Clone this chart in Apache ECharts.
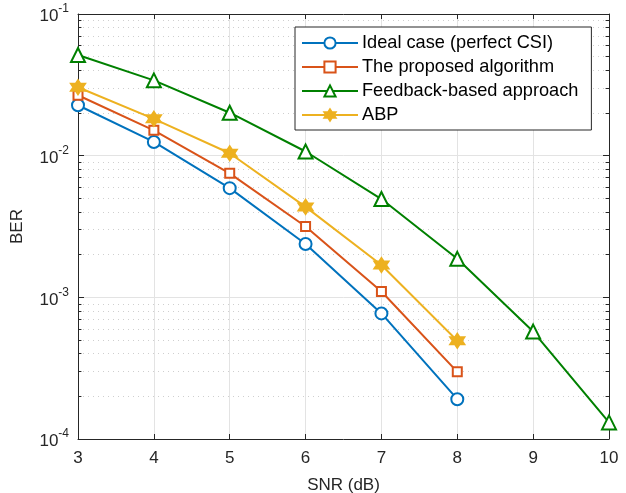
<!DOCTYPE html>
<html>
<head>
<meta charset="utf-8">
<script src="https://cdn.jsdelivr.net/npm/echarts@6/dist/echarts.min.js"></script>
<style>
html, body { margin:0; padding:0; background:#fff; }
#chart { width:626px; height:493px; }
</style>
</head>
<body>
<div id="chart"></div>
<script>
var snr = [3, 4, 5, 6, 7, 8, 9, 10];
var seriesNames = ['Ideal case (perfect CSI)', 'The proposed algorithm', 'Feedback-based approach', 'ABP'];
var berIdeal    = [0.0227, 0.0125, 0.0059, 0.00238, 0.00077, 0.000191];
var berProposed = [0.0267, 0.0151, 0.0075, 0.00316, 0.0011, 0.000298];
var berFeedback = [0.0514, 0.034, 0.0201, 0.0107, 0.00494, 0.00187, 0.000573, 0.000131];
var berAbp      = [0.0304, 0.0182, 0.0104, 0.00435, 0.00169, 0.000494];
var minorValues = [];
[1e-4, 1e-3, 1e-2].forEach(function (d) {
	for (var k = 2; k <= 9; k++) minorValues.push(d * k);
});

var hexagram = 'path://M10 0 L7.11 5 L1.34 5 L4.23 10 L1.34 15 L7.11 15 L10 20 L12.89 15 L18.66 15 L15.77 10 L18.66 5 L12.89 5 Z';

function pairs(vals) {
	return vals.map(function (v, i) { return [snr[i], v]; });
}

var axisColor = '#262626';
var font = 'Liberation Sans, Arial, sans-serif';

// minor grid + minor ticks (matlab style)
var guideLines = [];
minorValues.forEach(function (v) {
	guideLines.push([{ coord: [3, v] }, { coord: [10, v], lineStyle: { type: [1, 4], color: '#cfcfcf', width: 1 } }]);
	guideLines.push([{ coord: [3, v] }, { coord: [3.045, v], lineStyle: { type: 'solid', color: axisColor, width: 1 } }]);
	guideLines.push([{ coord: [9.955, v] }, { coord: [10, v], lineStyle: { type: 'solid', color: axisColor, width: 1 } }]);
});

function makeSeries(name, data, color, symbol, size, fill) {
	return {
		name: name,
		type: 'line',
		data: pairs(data),
		symbol: symbol,
		symbolSize: size,
		showAllSymbol: true,
		lineStyle: { color: color, width: 2 },
		itemStyle: { color: fill || '#fff', borderColor: color, borderWidth: 2 },
		z: 5
	};
}

var series = [
	makeSeries(seriesNames[0], berIdeal, '#0072BD', 'circle', 12),
	makeSeries(seriesNames[1], berProposed, '#D95319', 'rect', 9),
	makeSeries(seriesNames[2], berFeedback, '#008000', 'triangle', 14),
	makeSeries(seriesNames[3], berAbp, '#EDB120', hexagram, 14, '#EDB120')
];
series[0].markLine = {
	silent: true,
	symbol: 'none',
	label: { show: false },
	animation: false,
	z: 1,
	data: guideLines
};

var myChart = echarts.init(document.getElementById('chart'));
var option = {
	animation: false,
	backgroundColor: '#fff',
	grid: { left: 78, right: 17, top: 14, bottom: 54, outerBoundsMode: 'none', containLabel: false },
	legend: {
		orient: 'vertical',
		left: 295,
		top: 27,
		padding: [7, 13, 6, 6],
		itemGap: 6,
		itemWidth: 56,
		itemHeight: 14,
		backgroundColor: '#fff',
		borderColor: axisColor,
		borderWidth: 1,
		borderRadius: 0,
		data: seriesNames,
		textStyle: { fontFamily: font, fontSize: 18.2, lineHeight: 17, color: '#000', padding: [0, 0, 0, -1] }
	},
	xAxis: [
		{
			type: 'value',
			min: 3, max: 10, interval: 1,
			name: 'SNR (dB)',
			nameLocation: 'middle',
			nameGap: 38,
			nameTextStyle: { fontFamily: font, fontSize: 17, color: axisColor },
			axisLine: { lineStyle: { color: axisColor, width: 1 } },
			axisTick: { inside: true, length: 5, lineStyle: { color: axisColor } },
			axisLabel: { fontFamily: font, fontSize: 17, color: axisColor, margin: 11 },
			splitLine: { show: true, lineStyle: { color: '#e3e3e3', width: 1 } }
		},
		{
			type: 'value',
			position: 'top',
			min: 3, max: 10, interval: 1,
			axisLine: { show: true, onZero: false, lineStyle: { color: axisColor, width: 1 } },
			axisTick: { inside: true, length: 5, lineStyle: { color: axisColor } },
			axisLabel: { show: false },
			splitLine: { show: false }
		}
	],
	yAxis: [
		{
			type: 'log',
			logBase: 10,
			min: 1e-4, max: 0.1,
			name: 'BER',
			nameLocation: 'middle',
			nameGap: 52,
			nameTextStyle: { fontFamily: font, fontSize: 17, color: axisColor },
			axisLine: { show: true, lineStyle: { color: axisColor, width: 1 } },
			axisTick: { show: true, inside: true, length: 6, lineStyle: { color: axisColor } },
			axisLabel: {
				margin: 9,
				formatter: function (v) {
					return '{b|10}{s|' + Math.round(Math.log10(v)) + '}';
				},
				rich: {
					b: { fontFamily: font, fontSize: 17, color: axisColor, verticalAlign: 'bottom', lineHeight: 22 },
					s: { fontFamily: font, fontSize: 12, color: axisColor, verticalAlign: 'top', lineHeight: 22 }
				}
			},
			splitLine: { show: true, lineStyle: { color: '#e3e3e3', width: 1 } }
		},
		{
			type: 'log',
			logBase: 10,
			position: 'right',
			min: 1e-4, max: 0.1,
			axisLine: { show: true, onZero: false, lineStyle: { color: axisColor, width: 1 } },
			axisTick: { show: true, inside: true, length: 6, lineStyle: { color: axisColor } },
			axisLabel: { show: false },
			splitLine: { show: false }
		}
	],
	series: series
};
myChart.setOption(option);
</script>
</body>
</html>
